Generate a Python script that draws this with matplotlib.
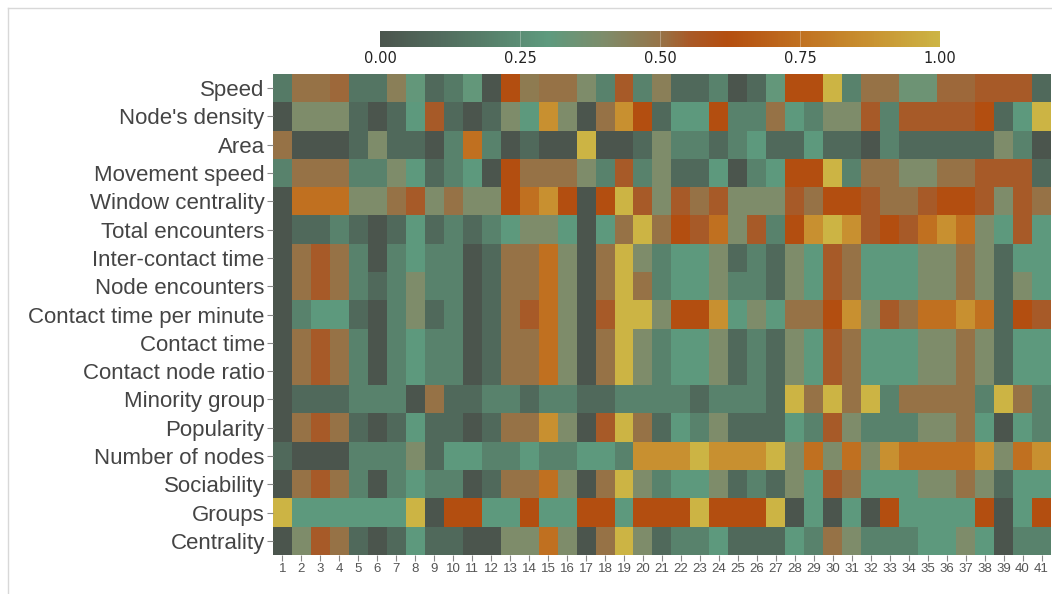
import matplotlib
matplotlib.use("Agg")
import matplotlib.pyplot as plt
from matplotlib.colors import LinearSegmentedColormap
from matplotlib.lines import Line2D
import numpy as np

features = ["Speed", "Node's density", "Area", "Movement speed", "Window centrality",
            "Total encounters", "Inter-contact time", "Node encounters",
            "Contact time per minute", "Contact time", "Contact node ratio",
            "Minority group", "Popularity", "Number of nodes", "Sociability",
            "Groups", "Centrality"]
runs = list(range(1, 42))

speed = [0.17, 0.5, 0.5, 0.52, 0.15, 0.15, 0.45, 0.32, 0.1, 0.17,
         0.32, 0.0, 0.62, 0.47, 0.5, 0.5, 0.4, 0.2, 0.55, 0.2,
         0.45, 0.1, 0.1, 0.2, 0.0, 0.1, 0.32, 0.62, 0.62, 1.0,
         0.2, 0.5, 0.5, 0.35, 0.35, 0.52, 0.52, 0.55, 0.55, 0.55, 0.1]
node_density = [0.0, 0.4, 0.4, 0.4, 0.1, 0.0, 0.1, 0.3, 0.55, 0.1,
                0.0, 0.1, 0.4, 0.3, 0.87, 0.4, 0.0, 0.5, 0.87, 0.62,
                0.1, 0.3, 0.3, 0.62, 0.2, 0.2, 0.5, 0.3, 0.2, 0.4,
                0.4, 0.55, 0.2, 0.55, 0.55, 0.55, 0.55, 0.62, 0.1, 0.3, 1.0]
area = [0.5, 0.0, 0.0, 0.0, 0.1, 0.4, 0.1, 0.1, 0.0, 0.2,
        0.75, 0.2, 0.0, 0.1, 0.0, 0.0, 1.0, 0.0, 0.0, 0.1,
        0.4, 0.2, 0.2, 0.1, 0.2, 0.3, 0.1, 0.1, 0.3, 0.1,
        0.1, 0.0, 0.2, 0.1, 0.1, 0.1, 0.1, 0.1, 0.4, 0.2, 0.0]
movement_speed = [0.2, 0.5, 0.5, 0.5, 0.2, 0.2, 0.4, 0.3, 0.1, 0.2,
                  0.3, 0.0, 0.62, 0.5, 0.5, 0.5, 0.4, 0.2, 0.55, 0.2,
                  0.4, 0.1, 0.1, 0.3, 0.0, 0.2, 0.3, 0.62, 0.62, 1.0,
                  0.2, 0.5, 0.5, 0.4, 0.4, 0.5, 0.5, 0.55, 0.55, 0.55, 0.1]
window_centrality = [0.0, 0.75, 0.75, 0.75, 0.4, 0.4, 0.5, 0.55, 0.4, 0.5,
                     0.4, 0.4, 0.62, 0.75, 0.87, 0.62, 0.0, 0.62, 1.0, 0.55,
                     0.4, 0.55, 0.5, 0.55, 0.4, 0.4, 0.4, 0.55, 0.5, 0.62,
                     0.62, 0.55, 0.5, 0.5, 0.55, 0.62, 0.62, 0.55, 0.4, 0.55, 0.5]
total_encounters = [0.0, 0.1, 0.1, 0.2, 0.1, 0.0, 0.1, 0.3, 0.1, 0.2,
                    0.1, 0.2, 0.3, 0.4, 0.4, 0.3, 0.0, 0.3, 0.5, 1.0,
                    0.5, 0.62, 0.55, 0.75, 0.4, 0.55, 0.2, 0.62, 0.87, 1.0,
                    0.87, 0.55, 0.62, 0.55, 0.75, 0.87, 0.75, 0.4, 0.3, 0.55, 0.3]
inter_contact_time = [0.0, 0.5, 0.55, 0.5, 0.2, 0.0, 0.2, 0.3, 0.2, 0.2,
                      0.0, 0.1, 0.5, 0.5, 0.75, 0.4, 0.0, 0.5, 1.0, 0.4,
                      0.2, 0.3, 0.3, 0.4, 0.1, 0.2, 0.1, 0.4, 0.3, 0.55,
                      0.5, 0.3, 0.3, 0.3, 0.4, 0.4, 0.5, 0.4, 0.1, 0.3, 0.3]
node_encounters = [0.0, 0.5, 0.55, 0.5, 0.2, 0.1, 0.2, 0.4, 0.2, 0.2,
                   0.0, 0.1, 0.5, 0.5, 0.75, 0.4, 0.0, 0.5, 1.0, 0.5,
                   0.2, 0.3, 0.3, 0.4, 0.2, 0.2, 0.1, 0.4, 0.3, 0.55,
                   0.5, 0.3, 0.3, 0.3, 0.4, 0.4, 0.5, 0.4, 0.1, 0.4, 0.3]
contact_time_per_minute = [0.0, 0.2, 0.3, 0.3, 0.1, 0.0, 0.2, 0.4, 0.1, 0.2,
                           0.0, 0.1, 0.5, 0.55, 0.75, 0.4, 0.0, 0.55, 1.0, 1.0,
                           0.4, 0.62, 0.62, 0.87, 0.3, 0.4, 0.3, 0.5, 0.5, 0.62,
                           0.87, 0.4, 0.55, 0.5, 0.75, 0.75, 0.87, 0.75, 0.1, 0.62, 0.55]
contact_time = [0.0, 0.5, 0.55, 0.5, 0.2, 0.0, 0.2, 0.3, 0.2, 0.2,
                0.0, 0.1, 0.5, 0.5, 0.75, 0.4, 0.0, 0.5, 1.0, 0.4,
                0.2, 0.3, 0.3, 0.4, 0.1, 0.2, 0.1, 0.4, 0.3, 0.55,
                0.5, 0.3, 0.3, 0.3, 0.4, 0.4, 0.5, 0.4, 0.1, 0.3, 0.3]
contact_node_ratio = [0.0, 0.5, 0.55, 0.5, 0.2, 0.0, 0.2, 0.3, 0.2, 0.2,
                      0.0, 0.1, 0.5, 0.5, 0.75, 0.4, 0.0, 0.5, 1.0, 0.4,
                      0.2, 0.3, 0.3, 0.4, 0.1, 0.2, 0.1, 0.4, 0.3, 0.55,
                      0.5, 0.3, 0.3, 0.3, 0.4, 0.4, 0.5, 0.4, 0.1, 0.3, 0.3]
minority_group = [0.0, 0.1, 0.1, 0.1, 0.2, 0.2, 0.2, 0.0, 0.5, 0.1,
                  0.1, 0.2, 0.2, 0.1, 0.2, 0.2, 0.1, 0.1, 0.2, 0.2,
                  0.2, 0.2, 0.1, 0.2, 0.2, 0.2, 0.1, 1.0, 0.5, 1.0,
                  0.5, 1.0, 0.2, 0.5, 0.5, 0.5, 0.5, 0.2, 1.0, 0.5, 0.2]
popularity = [0.0, 0.5, 0.55, 0.5, 0.1, 0.0, 0.1, 0.3, 0.1, 0.1,
              0.0, 0.1, 0.5, 0.5, 0.87, 0.4, 0.0, 0.55, 1.0, 0.5,
              0.1, 0.3, 0.2, 0.4, 0.1, 0.1, 0.1, 0.3, 0.2, 0.55,
              0.4, 0.2, 0.2, 0.2, 0.4, 0.4, 0.5, 0.3, 0.0, 0.3, 0.2]
number_of_nodes = [0.1, 0.0, 0.0, 0.0, 0.2, 0.2, 0.2, 0.4, 0.1, 0.3,
                   0.3, 0.2, 0.2, 0.3, 0.2, 0.2, 0.3, 0.3, 0.2, 0.87,
                   0.87, 0.87, 1.0, 0.87, 0.87, 0.87, 1.0, 0.4, 0.75, 0.4,
                   0.75, 0.4, 0.87, 0.75, 0.75, 0.75, 0.75, 0.87, 0.4, 0.75, 0.87]
sociability = [0.0, 0.5, 0.55, 0.5, 0.2, 0.0, 0.2, 0.3, 0.2, 0.2,
               0.0, 0.1, 0.5, 0.5, 0.75, 0.4, 0.0, 0.5, 1.0, 0.4,
               0.2, 0.3, 0.3, 0.4, 0.1, 0.2, 0.1, 0.4, 0.3, 0.55,
               0.5, 0.3, 0.3, 0.3, 0.4, 0.4, 0.5, 0.4, 0.1, 0.3, 0.3]
groups = [1.0, 0.3, 0.3, 0.3, 0.3, 0.3, 0.3, 1.0, 0.0, 0.62,
          0.62, 0.3, 0.3, 0.62, 0.3, 0.3, 0.62, 0.62, 0.3, 0.62,
          0.62, 0.62, 1.0, 0.62, 0.62, 0.62, 1.0, 0.0, 0.3, 0.0,
          0.3, 0.0, 0.62, 0.3, 0.3, 0.3, 0.3, 0.62, 0.0, 0.3, 0.62]
centrality = [0.0, 0.4, 0.55, 0.5, 0.1, 0.0, 0.1, 0.3, 0.1, 0.1,
              0.0, 0.0, 0.4, 0.4, 0.75, 0.4, 0.0, 0.5, 1.0, 0.4,
              0.1, 0.2, 0.2, 0.3, 0.1, 0.1, 0.1, 0.3, 0.2, 0.5,
              0.4, 0.2, 0.2, 0.2, 0.3, 0.3, 0.4, 0.3, 0.0, 0.2, 0.2]

Z = np.array([speed, node_density, area, movement_speed, window_centrality,
              total_encounters, inter_contact_time, node_encounters,
              contact_time_per_minute, contact_time, contact_node_ratio,
              minority_group, popularity, number_of_nodes, sociability,
              groups, centrality])

# dark green -> teal -> brown -> rust -> gold
stops = [(0.0, "#4b554d"), (0.1, "#516a5c"), (0.2, "#58826c"), (0.3, "#5e9a7e"),
         (0.4, "#7e8c6a"), (0.5, "#967448"), (0.55, "#a85a28"), (0.62, "#b44e10"),
         (0.75, "#c07020"), (0.87, "#c89030"), (1.0, "#ccb444")]
cmap = LinearSegmentedColormap.from_list("earth", stops)

fig = plt.figure(figsize=(10.52, 5.94), dpi=100)
ax = fig.add_axes([273 / 1052, 1 - 555 / 594, 778 / 1052, 481 / 594])

im = ax.imshow(Z, cmap=cmap, vmin=0, vmax=1, aspect="auto", interpolation="nearest")
ax.set_yticks(range(len(features)))
ax.set_yticklabels(features, fontsize=16, color="#444444", family="Liberation Sans")
ax.set_xticks(range(len(runs)))
ax.set_xticklabels(runs, fontsize=9.5, color="#555555", family="Liberation Sans")
ax.tick_params(axis="both", length=4, width=0.8, color="#888888", pad=2)
for s in ax.spines.values():
	s.set_visible(False)

cax = fig.add_axes([380 / 1052, 1 - 47 / 594, 560 / 1052, 16 / 594])
cb = fig.colorbar(im, cax=cax, orientation="horizontal")
cb.outline.set_visible(False)
cb.set_ticks([0, 0.25, 0.5, 0.75, 1.0])
cb.set_ticklabels(["0.00", "0.25", "0.50", "0.75", "1.00"])
cax.tick_params(length=0, labelsize=10.5, labelcolor="#222222", pad=3)
for t in [0.25, 0.5, 0.75]:
	cax.axvline(t, color="white", lw=0.6, alpha=0.35)

# light frame lines
fig.add_artist(Line2D([8 / 1052, 8 / 1052], [0, 1 - 8 / 594], color="#d8d8d8", lw=1))
fig.add_artist(Line2D([8 / 1052, 1], [1 - 8 / 594, 1 - 8 / 594], color="#d8d8d8", lw=1))

plt.savefig("out.png", dpi=100)
